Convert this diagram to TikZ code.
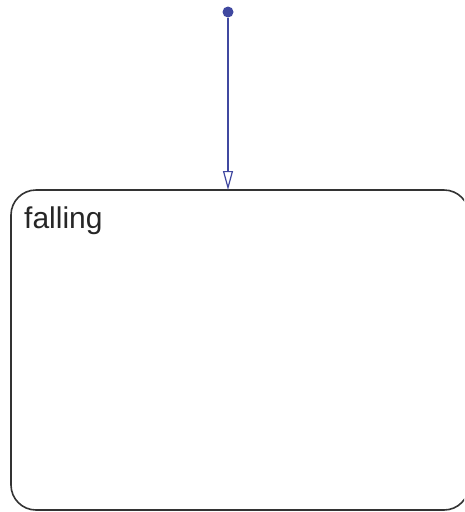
\documentclass[tikz,border=0pt]{standalone}
\usepackage{fontspec}
\setmainfont{Liberation Sans}
\usetikzlibrary{arrows.meta}
\definecolor{trblue}{RGB}{64,72,160}
\tikzset{
  statebox/.style={draw=black!80, line width=1.6pt, rounded corners=25pt},
  trans/.style={draw=trblue, line width=1.2pt, -{Triangle[open, length=19pt, width=10pt, line width=1.2pt]}},
  initdot/.style={circle, fill=trblue, inner sep=0pt, minimum size=11pt},
  lbl/.style={anchor=base west, inner sep=0pt, font=\fontsize{30}{33}\selectfont, text=black!85}
}
\begin{document}
\begin{tikzpicture}[x=1pt,y=-1pt]
  \useasboundingbox (0,0) rectangle (464,512);
  \clip (0,0) rectangle (464,512);
  \draw[statebox] (11,190) rectangle (469,510);
  \coordinate (boxtop) at (228,190);
  \node[initdot] (init) at (228,12) {};
  \node[lbl] (name) at (24,228) {falling};
  \draw[trans] (init) -- (boxtop);
\end{tikzpicture}
\end{document}
